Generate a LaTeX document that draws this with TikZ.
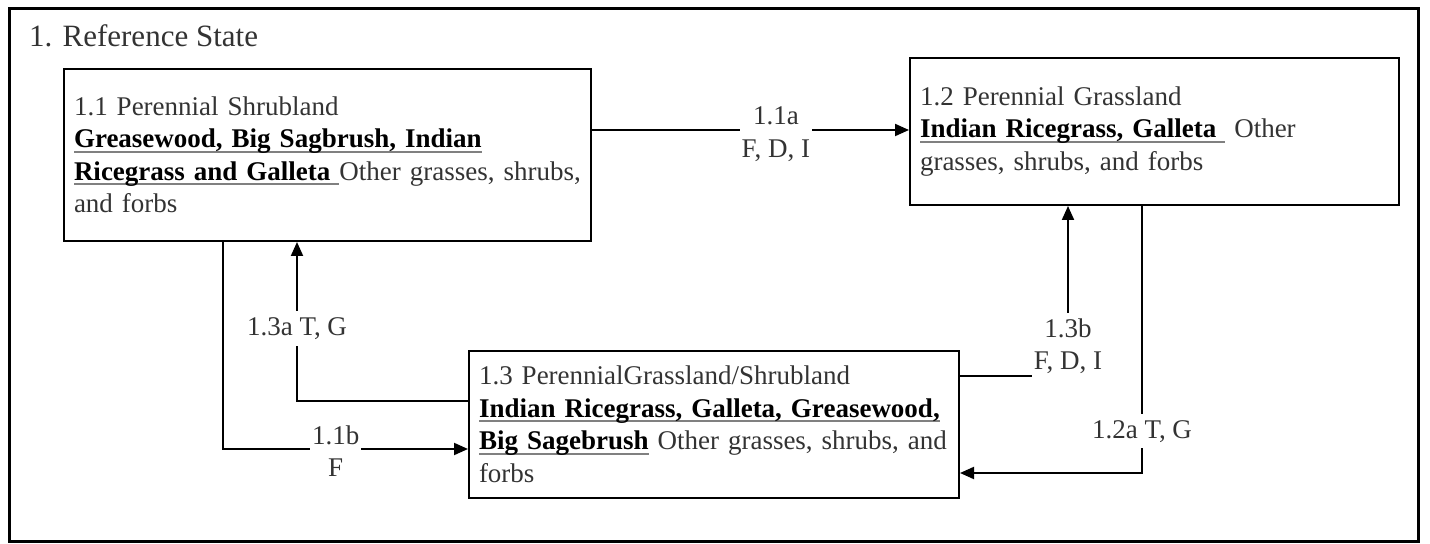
\documentclass[tikz,border=0pt]{standalone}
\usepackage{fontspec}
\setmainfont{Liberation Serif}
\usetikzlibrary{arrows.meta}
\definecolor{inkgray}{HTML}{333333}
\newsavebox\ulbox
\newcommand{\ulbold}[1]{\leavevmode\sbox\ulbox{\textbf{\color{black}#1}}\rlap{\raisebox{-2.3pt}{\color{gray}\rule{\wd\ulbox}{1pt}}}\usebox\ulbox}
\begin{document}
\begin{tikzpicture}[x=0.5pt,y=-0.5pt,
	box/.style={draw,line width=1pt,inner xsep=5pt,inner ysep=0pt,align=left,text=inkgray,font=\fontsize{13.5}{16.25}\selectfont},
	lbl/.style={fill=white,inner xsep=1pt,inner ysep=3pt,align=center,text=inkgray,font=\fontsize{13.5}{16.25}\selectfont},
	arr/.style={line width=1pt,-{Triangle[length=7pt,width=6pt]}}]
			\useasboundingbox (0,0) rectangle (1430,544);
			\draw[line width=1.5pt] (9,9) rectangle (1418,542);
			\node[anchor=base west,text=inkgray,font=\fontsize{15.5}{19}\selectfont] (title) at (22,47) {1. Reference State};
			\node[box,text width=253.5pt,minimum height=86pt] (b11) at (327.5,155)
			{1.1 Perennial Shrubland\\
			\ulbold{Greasewood, Big Sagbrush, Indian}\\
			\mbox{\ulbold{Ricegrass and Galleta\ }Other grasses, shrubs,}\\
			and forbs};
			\node[box,text width=234.5pt,minimum height=73.5pt] (b12) at (1154.5,131.5)
			{1.2 Perennial Grassland\\
			\ulbold{Indian Ricegrass, Galleta\ }\ Other\\
			grasses, shrubs, and forbs};
			\node[box,text width=235pt,minimum height=73.5pt] (b13) at (714,424.5)
			{1.3 PerennialGrassland/Shrubland\\
			\mbox{\ulbold{Indian Ricegrass, Galleta, Greasewood,}}\\
			\mbox{\ulbold{Big Sagebrush} Other grasses, shrubs, and}\\
			forbs};
			\draw[arr] (b11.east |- 0,130) -- node[lbl,pos=.58,yshift=-2pt] (l11a) {1.1a\\F, D, I} (b12.west |- 0,130);
			\draw[arr] (b11.south -| 223,0) -- (223,449) -- node[lbl,pos=.46,yshift=-1pt] (l11b) {1.1b\\F} (b13.west |- 0,449);
			\draw[arr] (b13.west |- 0,401) -- (297,401) -- node[lbl,pos=.456] (l13a) {1.3a T, G} (b11.south -| 297,0);
			\draw[arr] (b13.east |- 0,376) -- (1068,376) -- node[lbl,pos=.174] (l13b) {1.3b\\F, D, I} (b12.south -| 1068,0);
			\draw[arr] (b12.south -| 1142,0) -- node[lbl,pos=.844] (l12a) {1.2a T, G} (1142,473) -- (b13.east |- 0,473);
\end{tikzpicture}
\end{document}
